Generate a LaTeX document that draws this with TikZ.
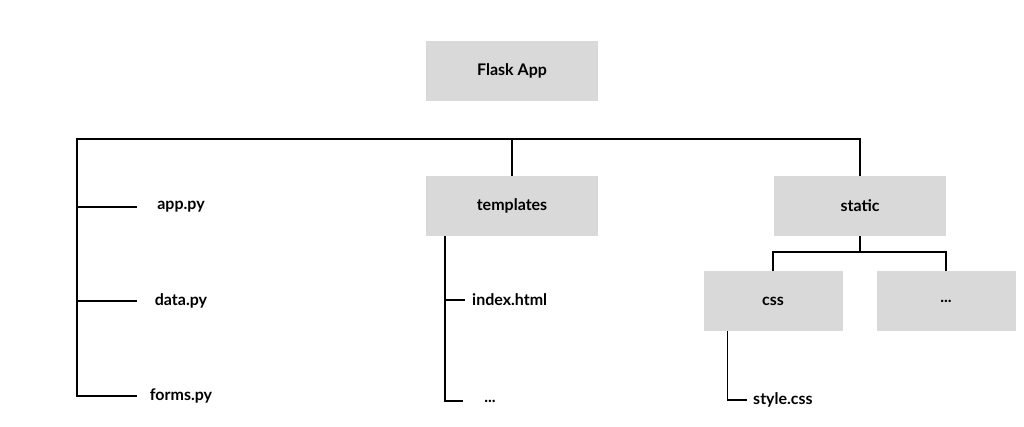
\documentclass[tikz,border=0pt]{standalone}
\usepackage{fontspec}
\setmainfont{Lato}
\usepackage{tikz}
\usetikzlibrary{arrows,shapes}
\usetikzlibrary{trees,positioning,fit}
\definecolor{boxgray}{RGB}{217,217,217}
\tikzstyle{folder} = [fill=boxgray, minimum width=172pt, minimum height=60pt,
    font=\fontsize{16}{19}\selectfont\bfseries]
\tikzstyle{subfolder} = [folder, minimum width=139pt]
\tikzstyle{file} = [minimum width=88pt, inner sep=0pt,
    font=\fontsize{16}{19}\selectfont\bfseries]
\tikzstyle{leaf} = [anchor=west, inner sep=0pt, inner xsep=7pt,
    font=\fontsize{16}{19}\selectfont\bfseries]
\tikzstyle{branch} = [black, line width=1.6pt]

\begin{document}
\begin{tikzpicture}[x=1pt, y=-1pt, node distance = 135pt, auto]
  \useasboundingbox (0,0) rectangle (1024,427);
  % Place nodes
  \node [folder] (flask) at (512,71) {Flask App};
  \node [folder, below of=flask] (templates) {templates};
  \node [folder, right of=templates, node distance = 348pt] (static) {static};
  \node [subfolder] (css) at (773,301) {css};
  \node [subfolder, right of=css, node distance = 173pt] (more) {...};
  \node [file] (apppy) at (181,207) {app.py};
  \node [file, below of=apppy, node distance = 94pt] (datapy) {data.py};
  \node [file, below of=datapy, node distance = 95pt] (formspy) {forms.py};
  \coordinate (trunk) at (77,139);
  \coordinate (tpl) at ([xshift=19pt]templates.south west);
  \coordinate (cssl) at ([xshift=24pt]css.south west);
  \node [leaf] (index) at (465,300) {index.html};
  \node [leaf, inner xsep=0pt, minimum width=54pt, anchor=center] (tdots) at (490,401) {...};
  \node [leaf, inner xsep=6pt] (stylecss) at (747,400) {style.css};
  % Lines
  \draw [branch] (formspy.west) -| (trunk) -| (static.north);
  \draw [branch] (trunk |- apppy.west) -- (apppy.west);
  \draw [branch] (trunk |- datapy.west) -- (datapy.west);
  \draw [branch] (templates.north |- trunk) -- (templates.north);
  \draw [branch] (tpl) |- (tdots.west);
  \draw [branch] (tpl |- index.west) -- (index.west);
  \draw [branch] (static.south) -- ++(0,16) -| (css.north);
  \draw [branch] (static.south) ++(0,16) -| (more.north);
  \draw [branch] (cssl) |- (stylecss.west);
\end{tikzpicture}
\end{document}
